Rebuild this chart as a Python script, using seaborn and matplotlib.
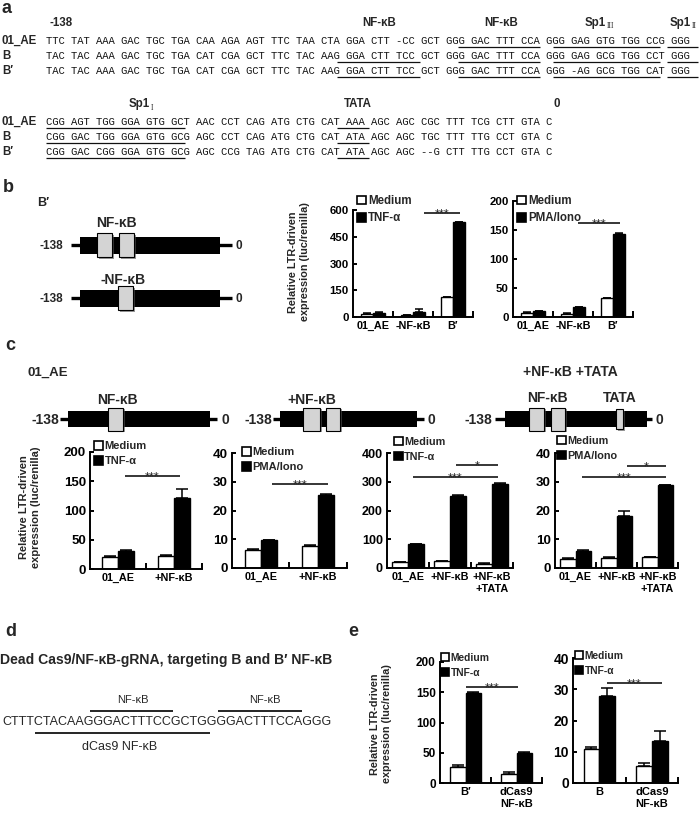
import numpy as np
import pandas as pd
import matplotlib
matplotlib.use("Agg")
import matplotlib.pyplot as plt
import seaborn as sns
from matplotlib.patches import Rectangle, Patch

sns.set_theme(style="white")
SANS = ["Liberation Sans", "DejaVu Sans"]
MONO = ["Liberation Mono", "DejaVu Sans Mono"]
SERIF = ["Liberation Serif", "DejaVu Serif"]
plt.rcParams["font.family"] = SANS

# ========================= DATA =========================
# ---- panel a: aligned LTR sequences ----
seq_names = ["01_AE", "B", "B′"]
seq_block1 = [
    "TTC TAT AAA GAC TGC TGA CAA AGA AGT TTC TAA CTA GGA CTT -CC GCT GGG GAC TTT CCA GGG GAG GTG TGG CCG GGG",
    "TAC TAC AAA GAC TGC TGA CAT CGA GCT TTC TAC AAG GGA CTT TCC GCT GGG GAC TTT CCA GGG GAG GCG TGG CCT GGG",
    "TAC TAC AAA GAC TGC TGA CAT CGA GCT TTC TAC AAG GGA CTT TCC GCT GGG GAC TTT CCA GGG -AG GCG TGG CAT GGG",
]
seq_block2 = [
    "CGG AGT TGG GGA GTG GCT AAC CCT CAG ATG CTG CAT AAA AGC AGC CGC TTT TCG CTT GTA C",
    "CGG GAC TGG GGA GTG GCG AGC CCT CAG ATG CTG CAT ATA AGC AGC TGC TTT TTG CCT GTA C",
    "CGG GAC CGG GGA GTG GCG AGC CCG TAG ATG CTG CAT ATA AGC AGC --G CTT TTG CCT GTA C",
]
# underlined motif spans (character index ranges) for each row
sites_block1 = [
    [(65, 78), (80, 97), (98, 103)],
    [(46, 59), (65, 78), (80, 97), (98, 103)],
    [(46, 59), (65, 78), (80, 97), (98, 103)],
]
sites_block2 = [[(0, 22), (46, 51)], [(0, 22), (46, 51)], [(0, 22), (46, 51)]]
header1_labels = ["-138", "NF-κB", "NF-κB", "Sp1", "Sp1"]
header1_subs = ["", "", "", "III", "II"]
header2_labels = ["Sp1", "TATA", "0"]
header2_subs = ["I", "", ""]

# ---- panel b ----
b_groups = ["01_AE", "-NF-κB", "B′"]
b_tnf_conditions = ["Medium", "TNF-α"]
b_tnf_medium = [15, 10, 110]
b_tnf_medium_err = [6, 3, 2]
b_tnf_treated = [25, 28, 530]
b_tnf_treated_err = [4, 15, 2]
b_tnf_ticks = [0, 150, 300, 450, 600]
b_pma_conditions = ["Medium", "PMA/Iono"]
b_pma_medium = [7, 6, 32]
b_pma_medium_err = [1, 1, 1]
b_pma_treated = [10, 17, 143]
b_pma_treated_err = [1, 1, 1]
b_pma_ticks = [0, 50, 100, 150, 200]

# ---- panel c ----
c_groups_2 = ["01_AE", "+NF-κB"]
c_groups_3 = ["01_AE", "+NF-κB", "+NF-κB\n+TATA"]
c_tnf_conditions = ["Medium", "TNF-α"]
c_pma_conditions = ["Medium", "PMA/Iono"]
c1_medium = [20, 23]
c1_medium_err = [1.5, 1.5]
c1_treated = [31, 122]
c1_treated_err = [2, 15]
c1_ticks = [0, 50, 100, 150, 200]
c2_medium = [6.3, 7.6]
c2_medium_err = [0.2, 0.3]
c2_treated = [9.8, 25.3]
c2_treated_err = [0.1, 0.3]
c2_ticks = [0, 10, 20, 30, 40]
c3_medium = [20, 23, 15]
c3_medium_err = [2, 2, 2]
c3_treated = [84, 252, 292]
c3_treated_err = [1, 1, 2]
c3_ticks = [0, 100, 200, 300, 400]
c4_medium = [3.2, 3.5, 3.8]
c4_medium_err = [0.2, 0.2, 0.1]
c4_treated = [5.9, 18.0, 28.7]
c4_treated_err = [0.2, 1.8, 0.3]
c4_ticks = [0, 10, 20, 30, 40]

# ---- panel d ----
d_title = "Dead Cas9/NF-κB-gRNA, targeting B and B′ NF-κB"
d_sequence = "CTTTCTACAAGGGACTTTCCGCTGGGGACTTTCCAGGG"
d_site_label = "NF-κB"
d_guide_label = "dCas9 NF-κB"

# ---- panel e ----
e_groups_1 = ["B′", "dCas9\nNF-κB"]
e_groups_2 = ["B", "dCas9\nNF-κB"]
e_conditions = ["Medium", "TNF-α"]
e1_medium = [26, 15]
e1_medium_err = [4, 3]
e1_treated = [148, 50]
e1_treated_err = [3, 1]
e1_ticks = [0, 50, 100, 150, 200]
e2_medium = [11, 5.5]
e2_medium_err = [0.4, 1.0]
e2_treated = [27.7, 13.5]
e2_treated_err = [2.8, 3.2]
e2_ticks = [0, 10, 20, 30, 40]

ylabel_text = "Relative LTR-driven\nexpression (luc/renilla)"

# ========================= FIGURE =========================
W, H = 700, 815
fig = plt.figure(figsize=(W / 100, H / 100), dpi=100)
ov = fig.add_axes([0, 0, 1, 1])
ov.set_xlim(0, W)
ov.set_ylim(H, 0)
ov.axis("off")
renderer = fig.canvas.get_renderer()


def txt(x, y, s, size, weight="bold", ha="left", va="center", family=SANS, **kw):
    return ov.text(x, y, s, fontsize=size, fontweight=weight, ha=ha, va=va,
                   family=family, **kw)


# ---------------- panel a ----------------
txt(2, 13, "a", 13, va="baseline")
SEQ_SIZE = 7.6
PITCH = 0.6001 * SEQ_SIZE * 100 / 72
SEQ_X = 46


def header(labels, subs, xs, y):
    for lab, sub, x in zip(labels, subs, xs):
        t = txt(x, y, lab, 8.3, va="baseline")
        if sub:
            bb = t.get_window_extent(renderer)
            ov.text(bb.x1 + 0.5, y + 2.5, sub, fontsize=5.5, family=SERIF,
                    va="baseline", ha="left")


def seq_block(rows, sites, ys):
    for name, s, marks, y in zip(seq_names, rows, sites, ys):
        txt(2, y, name, 8.3, va="baseline")
        ov.text(SEQ_X, y, s, fontsize=SEQ_SIZE, family=MONO, color="#111111",
                va="baseline", ha="left")
        for a, b in marks:
            ov.plot([SEQ_X + a * PITCH, SEQ_X + b * PITCH], [y + 2.5, y + 2.5],
                    color="#111111", lw=0.9, solid_capstyle="butt")


header(header1_labels, header1_subs, [50, 362, 484, 585, 670], 26)
seq_block(seq_block1, sites_block1, [44, 59, 74])
header(header2_labels, header2_subs, [129, 344, 553], 107)
seq_block(seq_block2, sites_block2, [125, 140, 155])


# ---------------- schematic diagrams ----------------
def diagram(y, thin, bar, boxes, left_x, right_x, size, bar_h=16, box_h=23):
    ov.plot(thin, [y, y], color="black", lw=2.4, solid_capstyle="butt", zorder=2)
    ov.add_patch(Rectangle((bar[0], y - bar_h / 2), bar[1] - bar[0], bar_h,
                           fc="black", ec="none", zorder=3))
    for bx in boxes:
        bh = bx[2] if len(bx) > 2 else box_h
        ov.add_patch(Rectangle((bx[0] + 1.5, y - bh / 2 + 1.5), bx[1] - bx[0], bh,
                               fc="#555555", ec="none", alpha=0.6, zorder=4))
        ov.add_patch(Rectangle((bx[0], y - bh / 2), bx[1] - bx[0], bh,
                               fc="#d4d4d4", ec="black", lw=0.8, zorder=5))
    txt(left_x, y + 1, "-138", size, ha="right")
    txt(right_x, y + 1, "0", size, ha="left")


# panel b
txt(3, 192, "b", 13, va="baseline")
txt(37, 203, "B′", 9)
txt(116, 223, "NF-κB", 10, ha="center")
diagram(245, (71, 232), (80, 220), [(97, 112), (119, 134)], 63, 236, 8.5, bar_h=17, box_h=24)
txt(123, 280, "-NF-κB", 10, ha="center")
diagram(298, (71, 232), (80, 220), [(118, 133)], 63, 236, 8.5, bar_h=17, box_h=24)

# panel c
txt(5, 350, "c", 13, va="baseline")
txt(27, 373, "01_AE", 9.5)
txt(117, 400, "NF-κB", 10, ha="center")
diagram(419, (60, 217), (68, 210), [(108, 123)], 59, 221, 10)
txt(312, 400, "+NF-κB", 10, ha="center")
diagram(419, (273, 424), (280, 417), [(303, 320), (326, 340)], 272, 427, 10)
txt(570, 372, "+NF-κB +TATA", 10, ha="center")
txt(547, 398, "NF-κB", 10, ha="center")
txt(620, 398, "TATA", 10, ha="center")
diagram(419, (495, 652), (505, 647), [(529, 544), (551, 565), (616, 623, 20)], 492, 655, 10)

# y labels
ov.text(299, 262, ylabel_text, rotation=90, ha="center", va="center", fontsize=7.8,
        fontweight="bold", linespacing=1.15)
ov.text(30, 507, ylabel_text, rotation=90, ha="center", va="center", fontsize=8,
        fontweight="bold", linespacing=1.15)
ov.text(381, 724, ylabel_text, rotation=90, ha="center", va="center", fontsize=7.8,
        fontweight="bold", linespacing=1.15)

# ---------------- panel d ----------------
txt(5, 636, "d", 13, va="baseline")
txt(348, 636, "e", 13, va="baseline")
txt(0, 660, d_title, 10.1)
txt(2, 722, d_sequence, 9.0, weight="normal")
txt(133, 700, d_site_label, 8, weight="normal", ha="center")
txt(265, 700, d_site_label, 8, weight="normal", ha="center")
for x0, x1, y in [(90, 173, 711), (218, 302, 711), (35, 210, 733)]:
    ov.plot([x0, x1], [y, y], color="black", lw=1.2, solid_capstyle="butt")
txt(120, 747, d_guide_label, 9, weight="normal", ha="center")


# ---------------- bar charts ----------------
def bar_panel(box, groups, conditions, medium, medium_err, treated, treated_err, ticks,
              width, ytick_size, xtick_size, legend_at, legend_size, capsize):
    x0, x1, ytop, ybase = box
    ax = fig.add_axes([x0 / W, 1 - ybase / H, (x1 - x0) / W, (ybase - ytop) / H])
    ax.patch.set_alpha(0)
    n = len(groups)
    df = pd.DataFrame({"group": list(groups) * 2,
                       "condition": [conditions[0]] * n + [conditions[1]] * n,
                       "value": list(medium) + list(treated)})
    sns.barplot(data=df, x="group", y="value", hue="condition", order=groups,
                hue_order=conditions, palette=["white", "black"], saturation=1,
                edgecolor="black", linewidth=1.0, width=width, errorbar=None,
                legend=False, ax=ax)
    conts = list(ax.containers)[:2]
    for cont, errs in zip(conts, [medium_err, treated_err]):
        for bar, e in zip(cont, errs):
            ax.errorbar(bar.get_x() + bar.get_width() / 2, bar.get_height(),
                        yerr=[[0], [e]], fmt="none", ecolor="black",
                        elinewidth=1.1, capsize=capsize, capthick=1.1, zorder=1)
    ax.set_xlim(-0.5, n - 0.5)
    ax.set_ylim(0, ticks[-1])
    ax.set_yticks(ticks)
    ax.set_xticks(range(n))
    ax.set_xticklabels(groups)
    ax.set_xticks(np.arange(n) + 0.5, minor=True)
    ax.set_xlabel("")
    ax.set_ylabel("")
    ax.tick_params(axis="x", which="major", length=0, pad=3, labelsize=xtick_size)
    ax.tick_params(axis="x", which="minor", direction="in", length=4, width=1.4,
                   color="black", bottom=True)
    ax.tick_params(axis="y", direction="in", length=3, width=1.4, pad=3,
                   labelsize=ytick_size, color="black", left=True)
    for s in ["top", "right"]:
        ax.spines[s].set_visible(False)
    for s in ["left", "bottom"]:
        ax.spines[s].set_linewidth(1.4)
        ax.spines[s].set_color("black")
    for lab in ax.get_xticklabels() + ax.get_yticklabels():
        lab.set_fontweight("bold")
        lab.set_color("black")
    handles = [Patch(facecolor="white", edgecolor="black", linewidth=1.2),
               Patch(facecolor="black", edgecolor="black", linewidth=1.2)]
    ax.legend(handles, conditions, loc="upper left",
              bbox_to_anchor=(legend_at[0] / W, 1 - legend_at[1] / H),
              bbox_transform=fig.transFigure, frameon=False, borderpad=0,
              borderaxespad=0, handlelength=0.8, handleheight=0.8,
              handletextpad=0.15, labelspacing=0.45,
              prop={"family": SANS, "weight": "bold", "size": legend_size})
    return ax


bar_panel((353, 473, 210, 317), b_groups, b_tnf_conditions, b_tnf_medium, b_tnf_medium_err,
          b_tnf_treated, b_tnf_treated_err, b_tnf_ticks, 0.6, 8.2, 7.8, (357, 195), 8.3, 3)
bar_panel((513, 633, 201, 317), b_groups, b_pma_conditions, b_pma_medium, b_pma_medium_err,
          b_pma_treated, b_pma_treated_err, b_pma_ticks, 0.6, 8.2, 7.8, (517, 195), 8.3, 3)
bar_panel((90, 202, 452, 569), c_groups_2, c_tnf_conditions, c1_medium, c1_medium_err,
          c1_treated, c1_treated_err, c1_ticks, 0.58, 9.5, 7.8, (94, 441), 8.0, 4)
bar_panel((232, 347, 453, 568), c_groups_2, c_pma_conditions, c2_medium, c2_medium_err,
          c2_treated, c2_treated_err, c2_ticks, 0.56, 9.7, 7.8, (242, 447), 8.0, 4)
bar_panel((387, 513, 453, 568), c_groups_3, c_tnf_conditions, c3_medium, c3_medium_err,
          c3_treated, c3_treated_err, c3_ticks, 0.76, 9.0, 7.8, (394, 437), 7.8, 4)
bar_panel((555, 678, 453, 568), c_groups_3, c_pma_conditions, c4_medium, c4_medium_err,
          c4_treated, c4_treated_err, c4_ticks, 0.76, 9.7, 7.8, (557, 436), 7.8, 4)
bar_panel((440, 542, 662, 783), e_groups_1, e_conditions, e1_medium, e1_medium_err,
          e1_treated, e1_treated_err, e1_ticks, 0.62, 8.5, 8.0, (441, 653), 7.4, 4)
bar_panel((573, 678, 658, 783), e_groups_2, e_conditions, e2_medium, e2_medium_err,
          e2_treated, e2_treated_err, e2_ticks, 0.6, 10, 8.0, (575, 651), 7.4, 4)

# significance annotations
for x0, x1, y, stars in [(424, 460, 213, "***"), (578, 620, 223, "***"),
                         (125, 180, 476, "***"), (272, 328, 484, "***"),
                         (456, 498, 465, "*"), (413, 498, 477, "***"),
                         (627, 666, 466, "*"), (582, 666, 477, "***"),
                         (466, 518, 687, "***"), (607, 662, 683, "***")]:
    ov.plot([x0, x1], [y, y], color="black", lw=1.1, solid_capstyle="butt")
    ov.text((x0 + x1) / 2, y + 4.5, stars, fontsize=9, ha="center", va="baseline",
            family=SANS)

fig.savefig("out.png", dpi=100)
